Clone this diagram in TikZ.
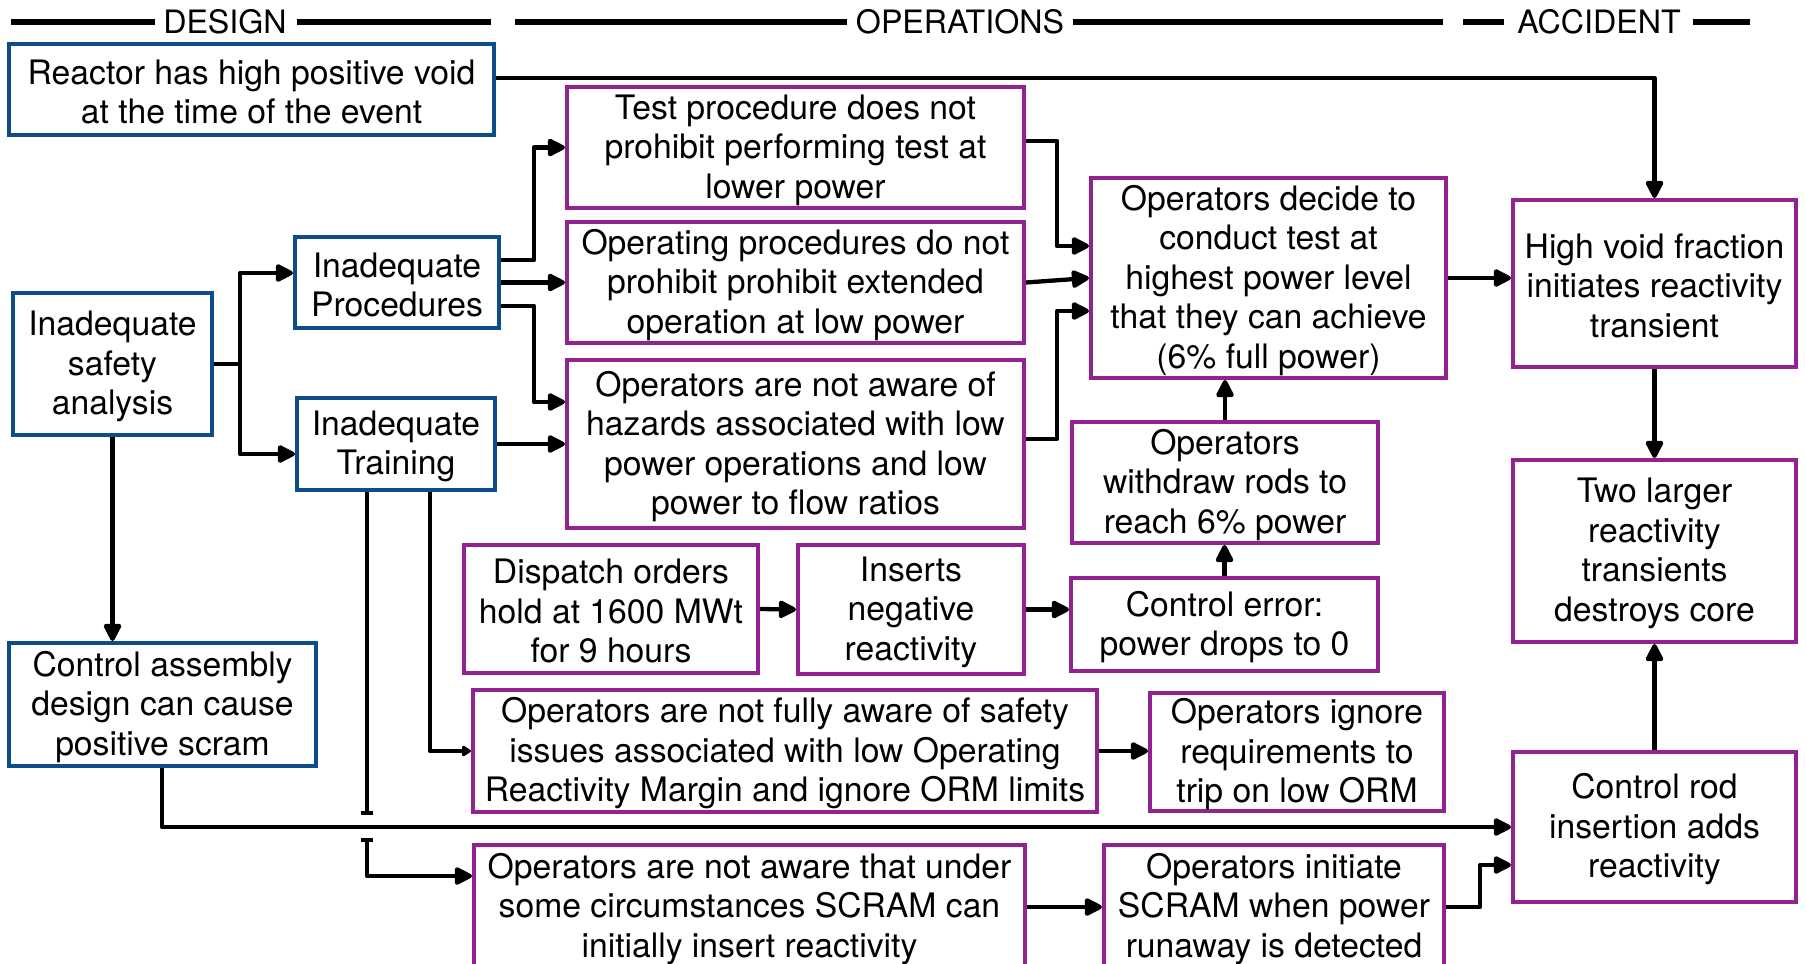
\documentclass[tikz,border=0pt]{standalone}
\usepackage{fontspec}
\setmainfont{TeX Gyre Heros}
\usetikzlibrary{arrows.meta,calc}
\definecolor{dblue}{RGB}{12,76,138}
\definecolor{dpurple}{RGB}{146,34,146}
\tikzset{
 box/.style={draw, line width=2pt, inner sep=0pt},
 bbox/.style={box, draw=dblue},
 pbox/.style={box, draw=dpurple},
 btext/.style={inner sep=0pt, align=center, font=\fontsize{16.85}{19.75}\selectfont},
 conn/.style={line width=2.15pt, line join=round},
 arr/.style={conn, -{Triangle[length=10pt,width=9.5pt,round]}},
 smallarr/.style={conn, -{Triangle[length=5pt,width=6pt,round]}},
 hdr/.style={line width=2.6pt},
 htext/.style={inner sep=0pt, font=\fontsize{16.1}{18}\selectfont},
}
\newcommand\bx[7]{%
 \node[#6, minimum width={(#4-#2)*0.5pt}, minimum height={(#5-#3)*0.5pt}] (#1) at ({(#2+#4)/2},{(#3+#5)/2}) {};
 \node[btext] (#1-t) at ([yshift=-1.2pt]#1.center) {#7};}
\begin{document}
\begin{tikzpicture}[x=0.5pt,y=-0.5pt]
\clip (0,0) rectangle (1806,964);
\fill[white] (0,0) rectangle (1806,964);
% headers
\node[htext] (hdes) at (225,22) {DESIGN};
\node[htext] (hops) at (960,22) {OPERATIONS};
\node[htext] (hacc) at (1599,22) {ACCIDENT};
\draw[hdr] (11,22) -- (155,22);
\draw[hdr] (297,22) -- (491,22);
\draw[hdr] (515,22) -- (847,22);
\draw[hdr] (1073,22) -- (1443,22);
\draw[hdr] (1463,22) -- (1504,22);
\draw[hdr] (1693,22) -- (1750,22);
% boxes
\bx{reactor}{9}{44}{494}{135}{bbox}{Reactor has high positive void\\at the time of the event}
\bx{safety}{13}{293}{212}{435}{bbox}{Inadequate\\safety\\analysis}
\bx{proc}{295}{237}{499}{328}{bbox}{Inadequate\\Procedures}
\bx{train}{297}{398}{495}{490}{bbox}{Inadequate\\Training}
\bx{ca}{9}{643}{316}{766}{bbox}{Control assembly\\design can cause\\positive scram}
\bx{test}{567}{87}{1024}{208}{pbox}{Test procedure does not\\prohibit performing test at\\lower power}
\bx{oper}{567}{222}{1024}{343}{pbox}{Operating procedures do not\\prohibit prohibit extended\\operation at low power}
\bx{haz}{567}{360}{1024}{528}{pbox}{Operators are not aware of\\hazards associated with low\\power operations and low\\power to flow ratios}
\bx{dec}{1091}{178}{1446}{378}{pbox}{Operators decide to\\conduct test at\\highest power level\\that they can achieve\\(6\% full power)}
\bx{hv}{1513}{200}{1796}{367}{pbox}{High void fraction\\initiates reactivity\\transient}
\bx{wd}{1072}{422}{1378}{543}{pbox}{Operators\\withdraw rods to\\reach 6\% power}
\bx{disp}{464}{545}{758}{673}{pbox}{Dispatch orders\\hold at 1600 MWt\\for 9 hours}
\bx{ins}{798}{545}{1024}{674}{pbox}{Inserts\\negative\\reactivity}
\bx{ce}{1071}{578}{1378}{671}{pbox}{Control error:\\power drops to 0}
\bx{two}{1513}{460}{1796}{642}{pbox}{Two larger\\reactivity\\transients\\destroys core}
\bx{nfa}{473}{690}{1097}{812}{pbox}{Operators are not fully aware of safety\\issues associated with low Operating\\Reactivity Margin and ignore ORM limits}
\bx{ign}{1150}{693}{1444}{811}{pbox}{Operators ignore\\requirements to\\trip on low ORM}
\bx{cr}{1513}{752}{1796}{902}{pbox}{Control rod\\insertion adds\\reactivity}
\bx{nau}{474}{845}{1025}{968}{pbox}{Operators are not aware that under\\some circumstances SCRAM can\\initially insert reactivity}
\bx{ini}{1104}{845}{1444}{968}{pbox}{Operators initiate\\SCRAM when power\\runaway is detected}
% connectors
\draw[arr] (reactor.east |- 0,78) -| (hv.north);
\coordinate (sj) at (240,364);
\draw[conn] (safety.east |- sj) -- (sj);
\draw[arr] (sj) |- (proc.west |- 0,273);
\draw[arr] (sj) |- (train.west |- 0,454);
\draw[arr] (proc.east |- 0,260) -- (534,260) |- (test.west);
\draw[arr] (proc.east) -- (oper.west);
\draw[arr] (proc.east |- 0,306) -- (534,306) |- (haz.west |- 0,402);
\draw[arr] (train.east) -- (haz.west |- train.east);
\draw[arr] (test.east |- 0,141) -- (1057,141) |- (dec.west |- 0,246);
\draw[arr] (oper.east) -- (dec.west);
\draw[arr] (haz.east |- 0,439) -- (1057,439) |- (dec.west |- 0,311);
\draw[arr] (dec.east) -- (hv.west |- dec.east);
\draw[arr] (hv.south) -- (two.north);
\draw[arr] (wd.north) -- (wd.north |- dec.south);
\draw[arr] (ce.north) -- (ce.north |- wd.south);
\draw[arr] (disp.east) -- (ins.west);
\draw[arr] (ins.east) -- (ce.west |- ins.east);
\draw[arr] (safety.south) -- (safety.south |- ca.north);
\draw[smallarr] (train.south -| 430,0) |- (nfa.west);
\coordinate (gapa) at (367,815);
\coordinate (gapb) at (367,838);
\draw[conn, -{Bar[width=6pt]}] (train.south -| gapa) -- (gapa);
\draw[conn, {Bar[width=6pt]}-{Triangle[length=10pt,width=9.5pt,round]}] (gapb) |- (nau.west |- 0,876);
\draw[arr] (ca.south -| 162,0) |- (cr.west);
\draw[arr] (nfa.east) -- (ign.west |- nfa.east);
\draw[arr] (nau.east |- 0,907) -- (ini.west |- 0,907);
\draw[arr] (ini.east |- 0,907) -- (1480,907) |- (cr.west |- 0,865);
\draw[arr] (cr.north) -- (two.south);
\end{tikzpicture}
\end{document}
